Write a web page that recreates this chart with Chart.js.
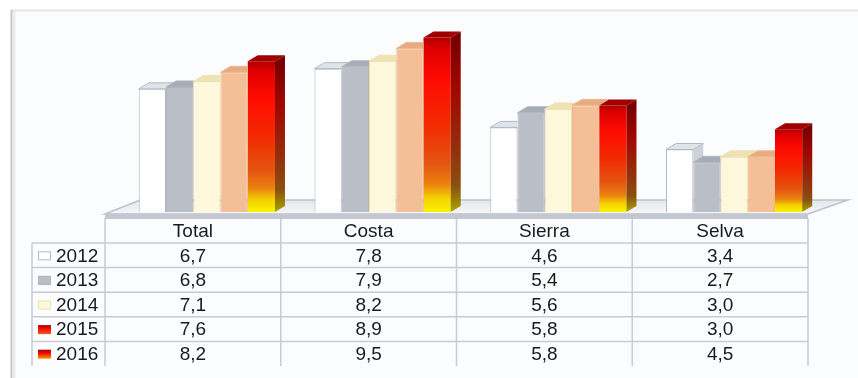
<!DOCTYPE html>
<html>
<head>
<meta charset="utf-8">
<script src="https://cdn.jsdelivr.net/npm/chart.js@4/dist/chart.umd.min.js"></script>
<style>
  html, body { margin: 0; padding: 0; background: #ffffff; }
  #wrap { width: 858px; height: 378px; }
</style>
</head>
<body>
<div id="wrap"><canvas id="chart" width="858" height="378"></canvas></div>
<script>
// data
const categories = ["Total", "Costa", "Sierra", "Selva"];
const years = ["2012", "2013", "2014", "2015", "2016"];
const v2012 = [6.7, 7.8, 4.6, 3.4];
const v2013 = [6.8, 7.9, 5.4, 2.7];
const v2014 = [7.1, 8.2, 5.6, 3.0];
const v2015 = [7.6, 8.9, 5.8, 3.0];
const v2016 = [8.2, 9.5, 5.8, 4.5];
const series = [v2012, v2013, v2014, v2015, v2016];

// 3d depth of bars, table sits a bit left of the bars (perspective)
const DX = 10, DY = -6;
const TABLE_SHIFT = 14;
const FONT = '19px "Liberation Sans", Arial, sans-serif';

const fronts = ["#ffffff", "#b9bec7", "#fdf7dc", "#f4be96", "#ff1000"];
const borders = ["#b2b9c4", "#b0b5be", "#eee2ae", "#f0b88e", "#d01000"];
const tops = ["#dfe3ea", "#a7adb7", "#efe3b4", "#e6ab82", "#a00000"];
const sides = ["#cdd2da", "#9aa0ab", "#e2d49c", "#d59a70", null];

function redFront(ctx, top, base) {
  const g = ctx.createLinearGradient(0, top, 0, base);
  g.addColorStop(0, "#b00000");
  g.addColorStop(0.07, "#e00000");
  g.addColorStop(0.25, "#ff0c00");
  g.addColorStop(0.5, "#f22a00");
  g.addColorStop(0.72, "#e45410");
  g.addColorStop(0.84, "#ea8010");
  g.addColorStop(0.92, "#f4d000");
  g.addColorStop(1, "#fbf200");
  return g;
}
function redSide(ctx, top, base) {
  const g = ctx.createLinearGradient(0, top, 0, base);
  g.addColorStop(0, "#760000");
  g.addColorStop(0.3, "#a00800");
  g.addColorStop(0.65, "#94300c");
  g.addColorStop(0.85, "#8a5010");
  g.addColorStop(1, "#a8a400");
  return g;
}

function frontColor(d) {
  return function (c) {
    if (d !== 4) return fronts[d];
    const chart = c.chart;
    if (c.type !== "data" || !chart.chartArea || !chart.scales.y) return fronts[d];
    const ys = chart.scales.y;
    return redFront(chart.ctx, ys.getPixelForValue(c.raw), ys.getPixelForValue(0));
  };
}

const datasets = series.map((vals, d) => ({
  label: years[d],
  data: vals,
  backgroundColor: frontColor(d),
  borderColor: borders[d],
  borderWidth: d === 4 ? 0 : 1,
  categoryPercentage: 0.775,
  barPercentage: 1
}));

const stage = {
  id: "stage",
  beforeDraw(chart) {
    const ctx = chart.ctx;
    ctx.save();
    ctx.fillStyle = "#ffffff";
    ctx.fillRect(0, 0, 858, 378);
    ctx.fillStyle = "#fbfcfe";
    ctx.fillRect(12, 11, 846, 367);
    // frame
    ctx.strokeStyle = "#e4e4e4";
    ctx.lineWidth = 2;
    ctx.beginPath(); ctx.moveTo(11, 10.5); ctx.lineTo(858, 10.5); ctx.stroke();
    ctx.strokeStyle = "#c4c4c4";
    ctx.beginPath(); ctx.moveTo(11.5, 10); ctx.lineTo(11.5, 378); ctx.stroke();
    ctx.strokeStyle = "#ececec";
    ctx.lineWidth = 3;
    ctx.beginPath(); ctx.moveTo(14, 12); ctx.lineTo(14, 378); ctx.stroke();

    // floor under the bars
    const xs = chart.scales.x;
    const half = (xs.right - xs.left) / categories.length / 2;
    const fl = xs.getPixelForValue(0) - TABLE_SHIFT - half;
    const fr = xs.getPixelForValue(categories.length - 1) - TABLE_SHIFT + half;
    const fy = 214;
    const g = ctx.createLinearGradient(0, 200, 0, fy);
    g.addColorStop(0, "#e3e6eb");
    g.addColorStop(1, "#f6f7f9");
    ctx.fillStyle = g;
    ctx.beginPath();
    ctx.moveTo(fl, fy); ctx.lineTo(fr, fy); ctx.lineTo(fr + 40, 200); ctx.lineTo(fl + 35, 200);
    ctx.closePath(); ctx.fill();
    ctx.strokeStyle = "#bcc2cb";
    ctx.lineWidth = 1.5;
    ctx.stroke();
    ctx.fillStyle = "#c3c8d0";
    ctx.fillRect(fl, fy, fr - fl, 5);
    ctx.restore();
  },
  afterDatasetsDraw(chart) {
    const ctx = chart.ctx;
    for (let d = 0; d < series.length; d++) {
      const bars = chart.getDatasetMeta(d).data;
      bars.forEach((b, i) => {
        const l = b.x - b.width / 2, r = b.x + b.width / 2, y = b.y, base = b.base;
        ctx.save();
        if (d < series.length - 1) {
          const n = chart.getDatasetMeta(d + 1).data[i];
          ctx.beginPath();
          ctx.rect(0, 0, 858, 378);
          ctx.rect(n.x - n.width / 2, n.y, n.width + 1, n.base - n.y + 1);
          ctx.clip("evenodd");
        }
        // side face
        ctx.fillStyle = d === 4 ? redSide(ctx, y, base) : sides[d];
        ctx.beginPath();
        ctx.moveTo(r, y); ctx.lineTo(r + DX, y + DY); ctx.lineTo(r + DX, base + DY); ctx.lineTo(r, base);
        ctx.closePath(); ctx.fill();
        // top face
        ctx.fillStyle = tops[d];
        ctx.beginPath();
        ctx.moveTo(l, y); ctx.lineTo(r, y); ctx.lineTo(r + DX, y + DY); ctx.lineTo(l + DX, y + DY);
        ctx.closePath(); ctx.fill();
        if (d < 4) {
          ctx.strokeStyle = borders[d];
          ctx.lineWidth = 1;
          ctx.stroke();
        }
        ctx.restore();
      });
    }
  },
  afterDraw(chart) {
    // data table with legend keys
    const ctx = chart.ctx;
    const xs = chart.scales.x;
    const cw = (xs.right - xs.left) / categories.length;
    const colL = i => xs.getPixelForValue(i) - TABLE_SHIFT - cw / 2;
    const tl = colL(0), tr = colL(categories.length - 1) + cw;
    const headTop = 218, headBot = 243, rowH = 24.6, bottom = 366, legL = 32;
    ctx.save();
    ctx.strokeStyle = "#c6cbd4";
    ctx.lineWidth = 1.5;
    for (let i = 0; i <= categories.length; i++) {
      const x = i < categories.length ? colL(i) : tr;
      ctx.beginPath(); ctx.moveTo(x, headTop); ctx.lineTo(x, bottom); ctx.stroke();
    }
    ctx.beginPath(); ctx.moveTo(legL, headBot); ctx.lineTo(legL, bottom); ctx.stroke();
    for (let r = 0; r < years.length; r++) {
      const y = headBot + r * rowH;
      ctx.beginPath(); ctx.moveTo(legL, y); ctx.lineTo(tr, y); ctx.stroke();
    }
    ctx.font = FONT;
    ctx.fillStyle = "#1a1a1a";
    ctx.textBaseline = "middle";
    ctx.textAlign = "center";
    categories.forEach((c, i) => ctx.fillText(c, colL(i) + cw / 2, (headTop + headBot) / 2 + 1));
    series.forEach((vals, r) => {
      const cy = headBot + r * rowH + rowH / 2 + 1;
      vals.forEach((v, i) => {
        ctx.fillText(v.toFixed(1).replace(".", ","), colL(i) + cw / 2, cy);
      });
    });
    ctx.textAlign = "left";
    years.forEach((yr, r) => {
      const cy = headBot + r * rowH + rowH / 2;
      const kx = 38, ky = cy - 4, kw = 13, kh = 9;
      if (r === 3 || r === 4) {
        const g = ctx.createLinearGradient(0, ky, 0, ky + kh);
        g.addColorStop(0, "#a00000");
        g.addColorStop(0.45, "#ff1000");
        g.addColorStop(1, r === 4 ? "#f0a000" : "#e86020");
        ctx.fillStyle = g;
      } else {
        ctx.fillStyle = fronts[r];
      }
      ctx.fillRect(kx, ky, kw, kh);
      if (r < 3) {
        ctx.strokeStyle = borders[r];
        ctx.lineWidth = 1;
        ctx.strokeRect(kx + 0.5, ky + 0.5, kw - 1, kh - 1);
      }
      ctx.fillStyle = "#1a1a1a";
      ctx.fillText(yr, 56, cy + 1);
    });
    ctx.restore();
  }
};

new Chart(document.getElementById("chart"), {
  type: "bar",
  data: { labels: categories, datasets: datasets },
  options: {
    responsive: false,
    animation: false,
    devicePixelRatio: 1,
    layout: { padding: { left: 119, right: 36, top: 19, bottom: 166 } },
    scales: {
      x: { display: false, grid: { display: false } },
      y: { display: false, min: 0, max: 10.5 }
    },
    plugins: {
      legend: { display: false },
      tooltip: { enabled: false }
    }
  },
  plugins: [stage]
});
</script>
</body>
</html>
